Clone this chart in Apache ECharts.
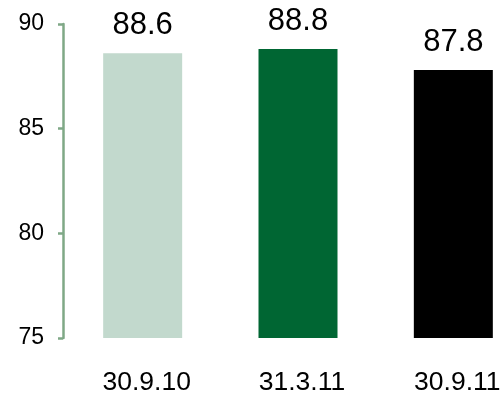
<!DOCTYPE html>
<html>
<head>
<meta charset="utf-8">
<script src="https://cdn.jsdelivr.net/npm/echarts@6/dist/echarts.min.js"></script>
<style>
  html, body { margin: 0; padding: 0; background: #fff; }
  #chart { width: 503px; height: 398px; }
</style>
</head>
<body>
<div id="chart"></div>
<script>
// Period-end dates and the ratio for each
const categories = ['30.9.10', '31.3.11', '30.9.11'];
const values = [88.6, 88.8, 87.8];
const barColors = ['#c2d9cd', '#006633', '#000000'];
const yTicks = { min: 75, max: 90, interval: 5 };

const FONT = '"Liberation Sans", Arial, sans-serif';

const chart = echarts.init(document.getElementById('chart'), null, { renderer: 'canvas' });

chart.setOption({
  animation: false,
  backgroundColor: '#ffffff',
  grid: { left: 65, top: 24, width: 466, height: 314, outerBoundsMode: 'none', containLabel: false },
  xAxis: {
    type: 'category',
    data: categories,
    axisLine: { show: false },
    axisTick: { show: false },
    axisLabel: {
      color: '#000',
      fontFamily: FONT,
      fontSize: 26.5,
      margin: 31,
      padding: [0, 0, 0, 8]
    }
  },
  yAxis: {
    type: 'value',
    min: yTicks.min,
    max: yTicks.max,
    interval: yTicks.interval,
    offset: 2,
    splitLine: { show: false },
    axisLine: { show: true, lineStyle: { color: '#7fa886', width: 2.5 } },
    axisTick: { show: true, length: 5, lineStyle: { color: '#7fa886', width: 2.5 } },
    axisLabel: {
      color: '#000',
      fontFamily: FONT,
      fontSize: 23,
      margin: 19
    }
  },
  series: [{
    type: 'bar',
    barWidth: 79,
    data: values.map((v, i) => ({ value: v, itemStyle: { color: barColors[i] } })),
    label: {
      show: true,
      position: 'top',
      distance: 12,
      color: '#000',
      fontFamily: FONT,
      fontSize: 31,
      formatter: p => p.value.toFixed(1)
    }
  }]
});
</script>
</body>
</html>
